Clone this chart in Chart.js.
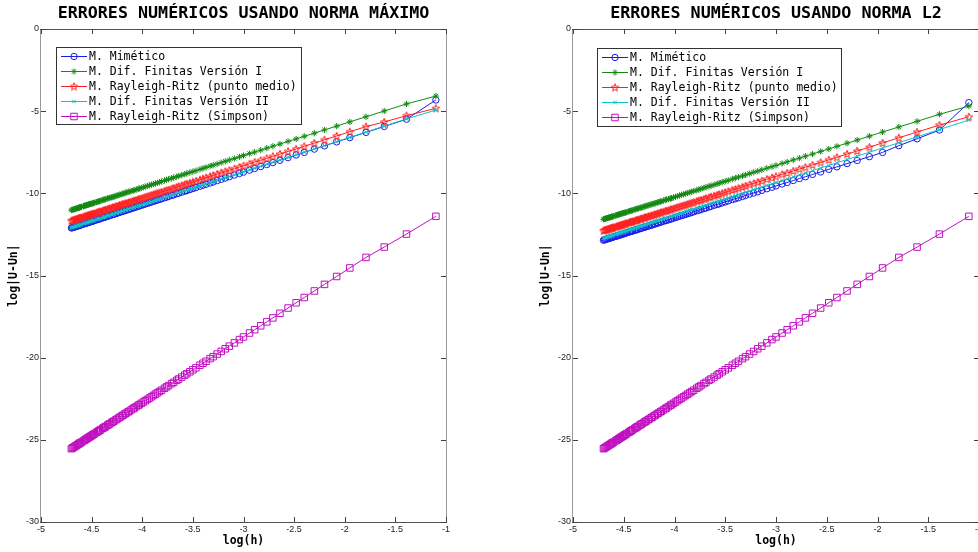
<!DOCTYPE html>
<html><head><meta charset="utf-8">
<script src="https://cdn.jsdelivr.net/npm/chart.js@4/dist/chart.umd.min.js"></script>
<style>
html,body{margin:0;padding:0;background:#fff;overflow:hidden;width:978px;height:552px;}
#wrap{position:relative;width:978px;height:552px;overflow:hidden;background:#fff;}
#c1{position:absolute;left:0;top:0;}
#c2{position:absolute;left:532px;top:0;}
</style></head><body>
<div id="wrap"><canvas id="c1" width="489" height="552"></canvas><canvas id="c2" width="489" height="552"></canvas></div>
<script>
// ---------- DATA (h = 1/N, N = 3..110) ----------
const titles = ['ERRORES NUMÉRICOS USANDO NORMA MÁXIMO', 'ERRORES NUMÉRICOS USANDO NORMA L2'];
const seriesNames = ['M. Mimético','M. Dif. Finitas Versión I','M. Rayleigh-Ritz (punto medio)','M. Dif. Finitas Versión II','M. Rayleigh-Ritz (Simpson)'];
const xTickLabels = ['-5','-4.5','-4','-3.5','-3','-2.5','-2','-1.5','-1'];
const yTickLabels = ['-30','-25','-20','-15','-10','-5','0'];
const xAxisTitle = 'log(h)';
const yAxisTitle = 'log|U-Un|';

const logH = [
-1.10,-1.39,-1.61,-1.79,-1.95,-2.08,-2.20,-2.30,-2.40,-2.48,
-2.56,-2.64,-2.71,-2.77,-2.83,-2.89,-2.94,-3.00,-3.04,-3.09,
-3.14,-3.18,-3.22,-3.26,-3.30,-3.33,-3.37,-3.40,-3.43,-3.47,
-3.50,-3.53,-3.56,-3.58,-3.61,-3.64,-3.66,-3.69,-3.71,-3.74,
-3.76,-3.78,-3.81,-3.83,-3.85,-3.87,-3.89,-3.91,-3.93,-3.95,
-3.97,-3.99,-4.01,-4.03,-4.04,-4.06,-4.08,-4.09,-4.11,-4.13,
-4.14,-4.16,-4.17,-4.19,-4.20,-4.22,-4.23,-4.25,-4.26,-4.28,
-4.29,-4.30,-4.32,-4.33,-4.34,-4.36,-4.37,-4.38,-4.39,-4.41,
-4.42,-4.43,-4.44,-4.45,-4.47,-4.48,-4.49,-4.50,-4.51,-4.52,
-4.53,-4.54,-4.55,-4.56,-4.57,-4.58,-4.60,-4.61,-4.62,-4.62,
-4.63,-4.64,-4.65,-4.66,-4.67,-4.68,-4.69,-4.70];

// ----- Norma máximo -----
const maxMimetico = [
-4.32,-5.49,-5.93,-6.29,-6.61,-6.87,-7.11,-7.31,-7.51,-7.67,
-7.83,-7.99,-8.13,-8.25,-8.37,-8.49,-8.59,-8.71,-8.79,-8.89,
-8.99,-9.07,-9.15,-9.23,-9.31,-9.37,-9.45,-9.51,-9.57,-9.65,
-9.71,-9.77,-9.83,-9.87,-9.93,-9.99,-10.03,-10.09,-10.13,-10.19,
-10.23,-10.27,-10.33,-10.37,-10.41,-10.45,-10.49,-10.53,-10.57,-10.61,
-10.65,-10.69,-10.73,-10.77,-10.79,-10.83,-10.87,-10.89,-10.93,-10.97,
-10.99,-11.03,-11.05,-11.09,-11.11,-11.15,-11.17,-11.21,-11.23,-11.27,
-11.29,-11.31,-11.35,-11.37,-11.39,-11.43,-11.45,-11.47,-11.49,-11.53,
-11.55,-11.57,-11.59,-11.61,-11.65,-11.67,-11.69,-11.71,-11.73,-11.75,
-11.77,-11.79,-11.81,-11.83,-11.85,-11.87,-11.91,-11.93,-11.95,-11.95,
-11.97,-11.99,-12.01,-12.03,-12.05,-12.07,-12.09,-12.11];
const maxDifFin1 = [
-4.08,-4.56,-4.99,-5.34,-5.65,-5.91,-6.14,-6.34,-6.53,-6.69,
-6.84,-7.00,-7.13,-7.25,-7.37,-7.49,-7.58,-7.70,-7.78,-7.88,
-7.97,-8.05,-8.13,-8.21,-8.29,-8.34,-8.42,-8.48,-8.54,-8.62,
-8.68,-8.73,-8.79,-8.83,-8.89,-8.95,-8.99,-9.05,-9.08,-9.14,
-9.18,-9.22,-9.28,-9.32,-9.36,-9.40,-9.44,-9.47,-9.51,-9.55,
-9.59,-9.63,-9.67,-9.71,-9.73,-9.77,-9.81,-9.83,-9.86,-9.90,
-9.92,-9.96,-9.98,-10.02,-10.04,-10.08,-10.10,-10.14,-10.16,-10.20,
-10.22,-10.24,-10.27,-10.29,-10.31,-10.35,-10.37,-10.39,-10.41,-10.45,
-10.47,-10.49,-10.51,-10.53,-10.57,-10.59,-10.61,-10.63,-10.64,-10.66,
-10.68,-10.70,-10.72,-10.74,-10.76,-10.78,-10.82,-10.84,-10.86,-10.86,
-10.88,-10.90,-10.92,-10.94,-10.96,-10.98,-11.00,-11.02];
const maxRRMedio = [
-4.83,-5.27,-5.66,-5.94,-6.25,-6.51,-6.74,-6.94,-7.14,-7.30,
-7.45,-7.61,-7.75,-7.87,-7.99,-8.10,-8.20,-8.32,-8.40,-8.50,
-8.60,-8.67,-8.75,-8.83,-8.91,-8.97,-9.05,-9.11,-9.17,-9.25,
-9.31,-9.36,-9.42,-9.46,-9.52,-9.58,-9.62,-9.68,-9.72,-9.78,
-9.82,-9.86,-9.92,-9.96,-9.99,-10.03,-10.07,-10.11,-10.15,-10.19,
-10.23,-10.27,-10.31,-10.35,-10.37,-10.41,-10.45,-10.47,-10.51,-10.55,
-10.57,-10.61,-10.62,-10.66,-10.68,-10.72,-10.74,-10.78,-10.80,-10.84,
-10.86,-10.88,-10.92,-10.94,-10.96,-11.00,-11.02,-11.04,-11.06,-11.10,
-11.12,-11.14,-11.16,-11.18,-11.22,-11.24,-11.26,-11.28,-11.29,-11.31,
-11.33,-11.35,-11.37,-11.39,-11.41,-11.43,-11.47,-11.49,-11.51,-11.51,
-11.53,-11.55,-11.57,-11.59,-11.61,-11.63,-11.65,-11.67];
const maxDifFin2 = [
-4.93,-5.47,-5.91,-6.27,-6.59,-6.85,-7.09,-7.29,-7.49,-7.65,
-7.81,-7.97,-8.11,-8.23,-8.35,-8.47,-8.57,-8.69,-8.77,-8.87,
-8.97,-9.05,-9.13,-9.21,-9.29,-9.35,-9.43,-9.49,-9.55,-9.63,
-9.69,-9.75,-9.81,-9.85,-9.91,-9.97,-10.01,-10.07,-10.11,-10.17,
-10.21,-10.25,-10.31,-10.35,-10.39,-10.43,-10.47,-10.51,-10.55,-10.59,
-10.63,-10.67,-10.71,-10.75,-10.77,-10.81,-10.85,-10.87,-10.91,-10.95,
-10.97,-11.01,-11.03,-11.07,-11.09,-11.13,-11.15,-11.19,-11.21,-11.25,
-11.27,-11.29,-11.33,-11.35,-11.37,-11.41,-11.43,-11.45,-11.47,-11.51,
-11.53,-11.55,-11.57,-11.59,-11.63,-11.65,-11.67,-11.69,-11.71,-11.73,
-11.75,-11.77,-11.79,-11.81,-11.83,-11.85,-11.89,-11.91,-11.93,-11.93,
-11.95,-11.97,-11.99,-12.01,-12.03,-12.05,-12.07,-12.09];
const maxRRSimpson = [
-11.40,-12.48,-13.27,-13.90,-14.54,-15.06,-15.54,-15.94,-16.34,-16.66,
-16.98,-17.30,-17.58,-17.82,-18.06,-18.30,-18.50,-18.74,-18.90,-19.10,
-19.30,-19.46,-19.62,-19.78,-19.94,-20.06,-20.22,-20.34,-20.46,-20.62,
-20.74,-20.86,-20.98,-21.06,-21.18,-21.30,-21.38,-21.50,-21.58,-21.70,
-21.78,-21.86,-21.98,-22.06,-22.14,-22.22,-22.30,-22.38,-22.46,-22.54,
-22.62,-22.70,-22.78,-22.86,-22.90,-22.98,-23.06,-23.10,-23.18,-23.26,
-23.30,-23.38,-23.42,-23.50,-23.54,-23.62,-23.66,-23.74,-23.78,-23.86,
-23.90,-23.94,-24.02,-24.06,-24.10,-24.18,-24.22,-24.26,-24.30,-24.38,
-24.42,-24.46,-24.50,-24.54,-24.62,-24.66,-24.70,-24.74,-24.78,-24.82,
-24.86,-24.90,-24.94,-24.98,-25.02,-25.06,-25.14,-25.18,-25.22,-25.22,
-25.26,-25.30,-25.34,-25.38,-25.42,-25.46,-25.50,-25.54];

// ----- Norma L2 -----
const l2Mimetico = [
-4.48,-6.15,-6.68,-7.10,-7.51,-7.77,-8.00,-8.19,-8.39,-8.54,
-8.70,-8.85,-8.99,-9.10,-9.22,-9.34,-9.43,-9.55,-9.63,-9.72,
-9.82,-9.90,-9.98,-10.05,-10.13,-10.19,-10.27,-10.33,-10.38,-10.46,
-10.52,-10.58,-10.64,-10.68,-10.73,-10.79,-10.83,-10.89,-10.93,-10.99,
-11.02,-11.06,-11.12,-11.16,-11.20,-11.24,-11.28,-11.32,-11.35,-11.39,
-11.43,-11.47,-11.51,-11.55,-11.57,-11.61,-11.65,-11.66,-11.70,-11.74,
-11.76,-11.80,-11.82,-11.86,-11.88,-11.92,-11.94,-11.98,-11.99,-12.03,
-12.05,-12.07,-12.11,-12.13,-12.15,-12.19,-12.21,-12.23,-12.25,-12.29,
-12.30,-12.32,-12.34,-12.36,-12.40,-12.42,-12.44,-12.46,-12.48,-12.50,
-12.52,-12.54,-12.56,-12.58,-12.60,-12.62,-12.65,-12.67,-12.69,-12.69,
-12.71,-12.73,-12.75,-12.77,-12.79,-12.81,-12.83,-12.85];
const l2DifFin1 = [
-4.69,-5.19,-5.62,-5.96,-6.27,-6.52,-6.76,-6.95,-7.14,-7.30,
-7.45,-7.61,-7.74,-7.86,-7.97,-8.09,-8.18,-8.30,-8.38,-8.47,
-8.57,-8.65,-8.72,-8.80,-8.88,-8.94,-9.01,-9.07,-9.13,-9.21,
-9.27,-9.32,-9.38,-9.42,-9.48,-9.54,-9.57,-9.63,-9.67,-9.73,
-9.77,-9.81,-9.86,-9.90,-9.94,-9.98,-10.02,-10.06,-10.09,-10.13,
-10.17,-10.21,-10.25,-10.29,-10.31,-10.35,-10.38,-10.40,-10.44,-10.48,
-10.50,-10.54,-10.56,-10.60,-10.62,-10.65,-10.67,-10.71,-10.73,-10.77,
-10.79,-10.81,-10.85,-10.87,-10.89,-10.92,-10.94,-10.96,-10.98,-11.02,
-11.04,-11.06,-11.08,-11.10,-11.14,-11.16,-11.18,-11.20,-11.21,-11.23,
-11.25,-11.27,-11.29,-11.31,-11.33,-11.35,-11.39,-11.41,-11.43,-11.43,
-11.45,-11.47,-11.48,-11.50,-11.52,-11.54,-11.56,-11.58];
const l2RRMedio = [
-5.34,-5.85,-6.27,-6.62,-6.93,-7.19,-7.42,-7.61,-7.81,-7.96,
-8.12,-8.27,-8.41,-8.52,-8.64,-8.76,-8.85,-8.97,-9.05,-9.14,
-9.24,-9.32,-9.40,-9.47,-9.55,-9.61,-9.69,-9.75,-9.80,-9.88,
-9.94,-10.00,-10.06,-10.10,-10.15,-10.21,-10.25,-10.31,-10.35,-10.41,
-10.44,-10.48,-10.54,-10.58,-10.62,-10.66,-10.70,-10.74,-10.77,-10.81,
-10.85,-10.89,-10.93,-10.97,-10.99,-11.03,-11.07,-11.08,-11.12,-11.16,
-11.18,-11.22,-11.24,-11.28,-11.30,-11.34,-11.36,-11.40,-11.41,-11.45,
-11.47,-11.49,-11.53,-11.55,-11.57,-11.61,-11.63,-11.65,-11.67,-11.71,
-11.72,-11.74,-11.76,-11.78,-11.82,-11.84,-11.86,-11.88,-11.90,-11.92,
-11.94,-11.96,-11.98,-12.00,-12.02,-12.04,-12.07,-12.09,-12.11,-12.11,
-12.13,-12.15,-12.17,-12.19,-12.21,-12.23,-12.25,-12.27];
const l2DifFin2 = [
-5.54,-6.12,-6.56,-6.92,-7.24,-7.50,-7.74,-7.94,-8.14,-8.30,
-8.46,-8.62,-8.76,-8.88,-9.00,-9.12,-9.22,-9.34,-9.42,-9.52,
-9.62,-9.70,-9.78,-9.86,-9.94,-10.00,-10.08,-10.14,-10.20,-10.28,
-10.34,-10.40,-10.46,-10.50,-10.56,-10.62,-10.66,-10.72,-10.76,-10.82,
-10.86,-10.90,-10.96,-11.00,-11.04,-11.08,-11.12,-11.16,-11.20,-11.24,
-11.28,-11.32,-11.36,-11.40,-11.42,-11.46,-11.50,-11.52,-11.56,-11.60,
-11.62,-11.66,-11.68,-11.72,-11.74,-11.78,-11.80,-11.84,-11.86,-11.90,
-11.92,-11.94,-11.98,-12.00,-12.02,-12.06,-12.08,-12.10,-12.12,-12.16,
-12.18,-12.20,-12.22,-12.24,-12.28,-12.30,-12.32,-12.34,-12.36,-12.38,
-12.40,-12.42,-12.44,-12.46,-12.48,-12.50,-12.54,-12.56,-12.58,-12.58,
-12.60,-12.62,-12.64,-12.66,-12.68,-12.70,-12.72,-12.74];
const l2RRSimpson = [
-11.40,-12.48,-13.27,-13.90,-14.54,-15.06,-15.54,-15.94,-16.34,-16.66,
-16.98,-17.30,-17.58,-17.82,-18.06,-18.30,-18.50,-18.74,-18.90,-19.10,
-19.30,-19.46,-19.62,-19.78,-19.94,-20.06,-20.22,-20.34,-20.46,-20.62,
-20.74,-20.86,-20.98,-21.06,-21.18,-21.30,-21.38,-21.50,-21.58,-21.70,
-21.78,-21.86,-21.98,-22.06,-22.14,-22.22,-22.30,-22.38,-22.46,-22.54,
-22.62,-22.70,-22.78,-22.86,-22.90,-22.98,-23.06,-23.10,-23.18,-23.26,
-23.30,-23.38,-23.42,-23.50,-23.54,-23.62,-23.66,-23.74,-23.78,-23.86,
-23.90,-23.94,-24.02,-24.06,-24.10,-24.18,-24.22,-24.26,-24.30,-24.38,
-24.42,-24.46,-24.50,-24.54,-24.62,-24.66,-24.70,-24.74,-24.78,-24.82,
-24.86,-24.90,-24.94,-24.98,-25.02,-25.06,-25.14,-25.18,-25.22,-25.22,
-25.26,-25.30,-25.34,-25.38,-25.42,-25.46,-25.50,-25.54];

// ---------- STYLE ----------
const colors = ['#1a1aee', '#138a13', '#ff2020', '#10c4c4', '#c010c0'];
const MONO = '"DejaVu Sans Mono", "Liberation Mono", monospace';
const SANS = '"Liberation Sans", Arial, sans-serif';

function pentagram(color) {
  const c = document.createElement('canvas');
  c.width = 10; c.height = 10;
  const g = c.getContext('2d');
  g.strokeStyle = color; g.lineWidth = 1;
  g.beginPath();
  const R = 4.0, r = 1.7, cx = 5, cy = 5.3;
  for (let k = 0; k < 10; k++) {
    const a = -Math.PI / 2 + k * Math.PI / 5;
    const rr = k % 2 === 0 ? R : r;
    const px = cx + rr * Math.cos(a), py = cy + rr * Math.sin(a);
    if (k === 0) g.moveTo(px, py); else g.lineTo(px, py);
  }
  g.closePath(); g.stroke();
  return c;
}
const styles = [
  {pointStyle: 'circle', radius: 3.2},
  {pointStyle: 'star', radius: 3.1},
  {pointStyle: pentagram(colors[2]), radius: 4},
  {pointStyle: 'crossRot', radius: 2.6},
  {pointStyle: 'rect', radius: 4.6}
];

function drawMarker(ctx, st, x, y, color) {
  const s = st.pointStyle, r = st.radius;
  ctx.save();
  ctx.strokeStyle = color; ctx.lineWidth = 1;
  if (typeof s === 'object') { ctx.drawImage(s, x - s.width / 2, y - s.height / 2); ctx.restore(); return; }
  ctx.beginPath();
  if (s === 'circle') { ctx.arc(x, y, r, 0, Math.PI * 2); }
  else if (s === 'rect') { const h = r * Math.SQRT1_2; ctx.rect(x - h, y - h, 2 * h, 2 * h); }
  else if (s === 'crossRot' || s === 'star') {
    const d = r * Math.SQRT1_2;
    ctx.moveTo(x - d, y - d); ctx.lineTo(x + d, y + d);
    ctx.moveTo(x - d, y + d); ctx.lineTo(x + d, y - d);
    if (s === 'star') { ctx.moveTo(x - r, y); ctx.lineTo(x + r, y); ctx.moveTo(x, y - r); ctx.lineTo(x, y + r); }
  }
  ctx.stroke();
  ctx.restore();
}

const framePlugin = {
  id: 'frame',
  afterDatasetsDraw(chart, args, o) {
    const {ctx, chartArea: a} = chart;
    const xs = chart.scales.x, ys = chart.scales.y;
    ctx.save();
    ctx.lineWidth = 1;
    ctx.strokeStyle = '#9a9a9a';
    ctx.beginPath();
    ctx.moveTo(Math.round(a.left) - 0.5, a.top); ctx.lineTo(Math.round(a.left) - 0.5, a.bottom + 1);
    ctx.moveTo(Math.round(a.right) + 0.5, a.top); ctx.lineTo(Math.round(a.right) + 0.5, a.bottom + 1);
    ctx.stroke();
    ctx.strokeStyle = '#505050';
    ctx.beginPath();
    ctx.moveTo(a.left - 1, Math.round(a.top) + 0.5); ctx.lineTo(a.right + 1, Math.round(a.top) + 0.5);
    ctx.moveTo(a.left - 1, Math.round(a.bottom) + 0.5); ctx.lineTo(a.right + 1, Math.round(a.bottom) + 0.5);
    ctx.stroke();
    ctx.strokeStyle = '#404040';
    ctx.beginPath();
    const L = 5;
    xs.ticks.forEach(t => {
      const px = Math.round(xs.getPixelForValue(t.value)) + 0.5;
      ctx.moveTo(px, a.bottom); ctx.lineTo(px, a.bottom - L);
      ctx.moveTo(px, a.top); ctx.lineTo(px, a.top + L);
    });
    ys.ticks.forEach(t => {
      const py = Math.round(ys.getPixelForValue(t.value)) + 0.5;
      ctx.moveTo(a.left, py); ctx.lineTo(a.left + L, py);
      ctx.moveTo(a.right, py); ctx.lineTo(a.right - L, py);
    });
    ctx.stroke();
    ctx.restore();
  },
  afterDraw(chart, args, o) {
    const {ctx, chartArea: a} = chart;
    ctx.save();
    ctx.fillStyle = '#000';
    ctx.font = 'bold 16.7px ' + MONO;
    ctx.textAlign = 'center'; ctx.textBaseline = 'middle';
    ctx.fillText(o.title, (a.left + a.right) / 2, o.titleY);
    const lg = o.legend;
    const x0 = a.left + lg.dx, y0 = a.top + lg.dy;
    ctx.fillStyle = '#fff';
    ctx.fillRect(x0, y0, lg.w, lg.h);
    ctx.strokeStyle = '#333'; ctx.lineWidth = 1;
    ctx.strokeRect(Math.round(x0) + 0.5, Math.round(y0) + 0.5, Math.round(lg.w), Math.round(lg.h));
    ctx.font = '11.5px ' + MONO;
    ctx.textAlign = 'left'; ctx.textBaseline = 'middle';
    chart.data.datasets.forEach((ds, i) => {
      const cy = Math.round(y0 + lg.first + i * lg.step) + 0.5;
      ctx.strokeStyle = ds.borderColor; ctx.lineWidth = 1;
      ctx.beginPath(); ctx.moveTo(x0 + lg.lx0, cy); ctx.lineTo(x0 + lg.lx1, cy); ctx.stroke();
      drawMarker(ctx, styles[i], x0 + (lg.lx0 + lg.lx1) / 2, cy, ds.borderColor);
      ctx.fillStyle = '#000';
      ctx.fillText(ds.label, x0 + lg.tx, cy + 0.5);
    });
    ctx.restore();
  }
};

function makeDatasets(seriesList) {
  return seriesList.map((ys, i) => ({
    label: seriesNames[i],
    data: logH.map((x, k) => ({x: x, y: ys[k]})),
    borderColor: colors[i],
    backgroundColor: 'rgba(0,0,0,0)',
    pointBorderColor: colors[i],
    pointBackgroundColor: 'rgba(0,0,0,0)',
    pointStyle: styles[i].pointStyle,
    pointRadius: styles[i].radius,
    pointBorderWidth: 1,
    borderWidth: 1,
    tension: 0,
    fill: false,
    order: 5 - i
  }));
}

function makeChart(id, seriesList, title, rightPad, legend) {
  return new Chart(document.getElementById(id), {
    type: 'line',
    data: {datasets: makeDatasets(seriesList)},
    plugins: [framePlugin],
    options: {
      responsive: false,
      animation: false,
      events: [],
      layout: {padding: {left: 0, right: rightPad, top: 29, bottom: 0}},
      plugins: {
        legend: {display: false},
        tooltip: {enabled: false},
        title: {display: false},
        frame: {title: title, titleY: 14, legend: legend}
      },
      scales: {
        x: {
          type: 'linear', min: -5, max: -1,
          afterFit: s => { s.height = 30; },
          border: {display: false},
          grid: {display: false, drawTicks: false},
          ticks: {
            stepSize: 0.5, autoSkip: false, maxRotation: 0, padding: 2,
            color: '#222', font: {family: SANS, size: 9},
            callback: (v, i) => xTickLabels[i]
          },
          title: {display: true, text: xAxisTitle, color: '#000',
                  font: {family: MONO, size: 11.5, weight: 'bold'}, padding: {top: 0, bottom: 3.6}}
        },
        y: {
          type: 'linear', min: -30, max: 0,
          afterFit: s => { s.width = 41; },
          border: {display: false},
          grid: {display: false, drawTicks: false},
          ticks: {
            stepSize: 5, autoSkip: false, padding: 2,
            color: '#222', font: {family: SANS, size: 9},
            callback: (v, i) => yTickLabels[i]
          },
          title: {display: true, text: yAxisTitle, color: '#000',
                  font: {family: MONO, size: 11.5, weight: 'bold'}, padding: {top: 7, bottom: 0}}
        }
      }
    }
  });
}

makeChart('c1', [maxMimetico, maxDifFin1, maxRRMedio, maxDifFin2, maxRRSimpson], titles[0], 43,
  {dx: 15, dy: 18, w: 245, h: 77, first: 9.3, step: 14.8, lx0: 5, lx1: 31, tx: 33});
makeChart('c2', [l2Mimetico, l2DifFin1, l2RRMedio, l2DifFin2, l2RRSimpson], titles[1], 42,
  {dx: 24, dy: 19, w: 244, h: 78, first: 9.4, step: 14.9, lx0: 5, lx1: 31, tx: 33});
</script>
</body></html>
